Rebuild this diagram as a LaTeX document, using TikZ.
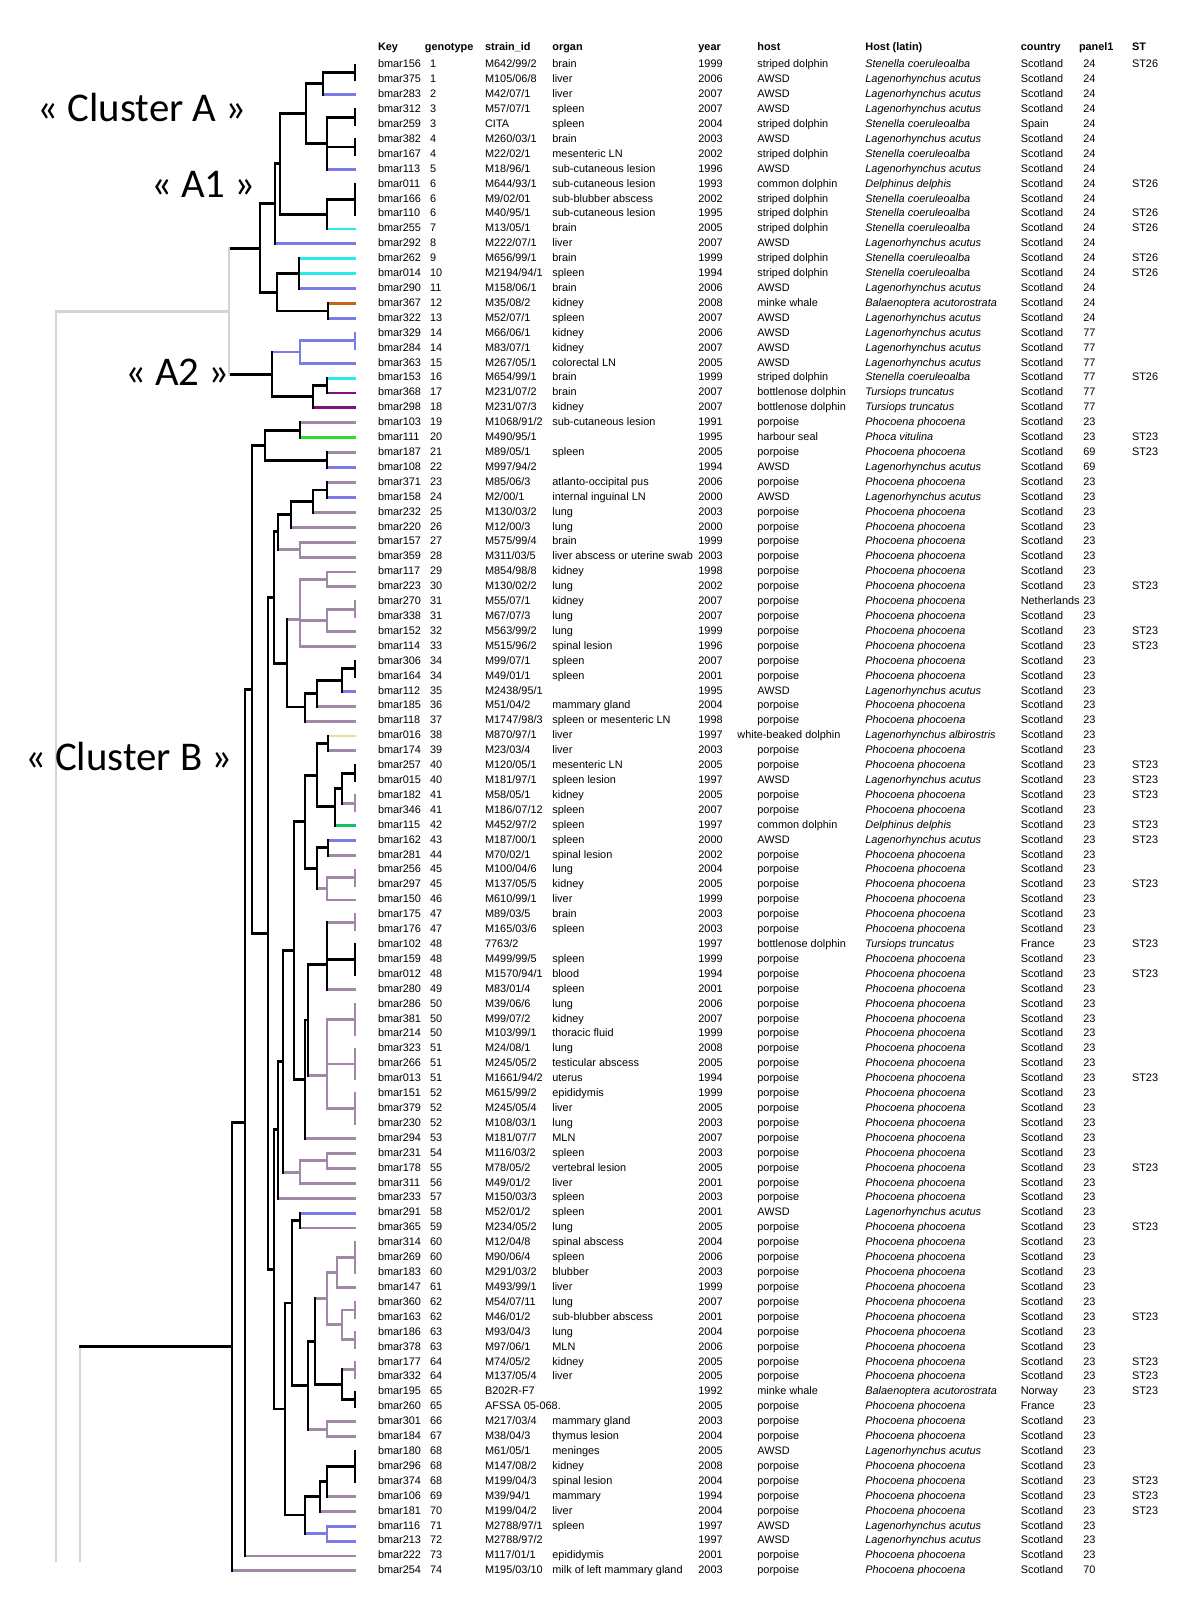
\documentclass[tikz,border=0pt]{standalone}
\usepackage{fontspec}
\setmainfont{Liberation Sans}
\newfontfamily\clusterfont{Carlito}

\definecolor{awsd}{RGB}{122,122,232}
\definecolor{striped}{RGB}{40,236,236}
\definecolor{minke}{RGB}{196,100,20}
\definecolor{bottlenose}{RGB}{128,16,128}
\definecolor{porpoise}{RGB}{160,136,166}
\definecolor{seal}{RGB}{40,222,40}
\definecolor{common}{RGB}{20,190,100}
\definecolor{whitebeak}{RGB}{226,224,160}
\definecolor{bracket}{RGB}{212,212,212}

\newcommand\tabfont{\fontsize{5.45}{6}\selectfont}

\tikzset{
  branch/.style={line width=1.45pt, line cap=rect},
  cell/.style={anchor=west, inner sep=0pt, font=\tabfont, text height=3.9pt, text depth=1.1pt},
  head/.style={cell, font=\tabfont\bfseries},
  latin/.style={cell, font=\tabfont\itshape},
  clabel/.style={anchor=east, inner sep=0pt, font=\clusterfont\fontsize{20.4}{24}\selectfont}
}

% one table row: key, genotype, strain, organ, year, host code, country, panel1, ST
\newcounter{rowno}
\newcommand\hostcell[3][757]{%
  \node[cell] (host\therowno) at (#1,\therowno) {#2};
  \node[latin] (latin\therowno) at (865,\therowno) {#3};}
\newcommand\hSD{\hostcell{striped dolphin}{Stenella coeruleoalba}}
\newcommand\hAW{\hostcell{AWSD}{Lagenorhynchus acutus}}
\newcommand\hCD{\hostcell{common dolphin}{Delphinus delphis}}
\newcommand\hMW{\hostcell{minke whale}{Balaenoptera acutorostrata}}
\newcommand\hBD{\hostcell{bottlenose dolphin}{Tursiops truncatus}}
\newcommand\hPP{\hostcell{porpoise}{Phocoena phocoena}}
\newcommand\hHS{\hostcell{harbour seal}{Phoca vitulina}}
\newcommand\hWB{\hostcell[737]{white-beaked dolphin}{Lagenorhynchus albirostris}}
\newcommand\trow[9]{\stepcounter{rowno}%
  \node[cell] (key\therowno) at (377.6,\therowno) {#1};
  \node[cell] (geno\therowno) at (429.6,\therowno) {#2};
  \node[cell] (strain\therowno) at (484.7,\therowno) {#3};
  \node[cell] (organ\therowno) at (552,\therowno) {#4};
  \node[cell] (year\therowno) at (698,\therowno) {#5};
  \csname h#6\endcsname
  \node[cell] (country\therowno) at (1020.4,\therowno) {#7};
  \node[cell] (panel\therowno) at (1083,\therowno) {#8};
  \node[cell] (st\therowno) at (1131.6,\therowno) {#9};}

% clades: name/x/row/first child/last child/colour of the bar
\newcommand\cladelist{
  a12/355/1.5/L1/L2/black, a123/323/2.25/a12/L3/black,
  a45/355/4.5/L4/L5/black, a67/355/6.5/L6/L7/black,
  a4to8/327/6.25/a45/L8/black, a1to8/306/4.25/a123/a4to8/black,
  a9to11/355/10/L9/L11/black, a9to12/327/11/a9to11/L12/black,
  a1to12/280/7.625/a1to8/a9to12/black, a1to13/275/10.31/a1to12/L13/black,
  a14to16/299/15/L14/L16/black, a17to18/328/17.5/L17/L18/black,
  a14to18/277/16.25/a14to16/a17to18/black, cA1/260/13.28/a1to13/a14to18/black,
  a19to20/355/19.5/L19/L20/awsd, a19to21/300/20.25/a19to20/L21/awsd,
  a22to23/327/22.5/L22/L23/black, a22to24/313/23.25/a22to23/L24/black,
  cA2/272/21.75/a19to21/a22to24/black, cA/229/17.52/cA1/cA2/bracket,
  b25to26/300/25.5/L25/L26/black, b27to28/327/27.5/L27/L28/black,
  b25to28/265/26.5/b25to26/b27to28/black,
  b29to30/327/29.5/L29/L30/black, b29to31/313/30.25/b29to30/L31/black,
  b29to32/291/31.125/b29to31/L32/black, b33to34/300/33.5/L33/L34/porpoise,
  b29to34/278/32.31/b29to32/b33to34/black,
  b35to36/327/35.5/L35/L36/porpoise, b37to38/355/37.5/L37/L38/porpoise,
  b37to39/327/38.25/b37to38/L39/porpoise, b35to40/300/38.2/b35to36/L40/porpoise,
  b41to42/355/41.5/L41/L42/black, b41to43/342/42.25/b41to42/L43/black,
  b41to44/317/43.125/b41to43/L44/black, b41to45/305/44.06/b41to44/L45/black,
  b35to45/287/41.13/b35to40/b41to45/black, b29to45/274/36.72/b29to34/b35to45/black,
  b46to47/328/46.5/L46/L47/black, b48to49/355/48.5/L48/L49/black,
  b50to51/355/50.5/L50/L51/porpoise, b48to51/342/49.5/b48to49/b50to51/black,
  b48to52/335/50.75/b48to51/L52/black, b46to52/317/48.625/b46to47/b48to52/black,
  b53to54/328/53.5/L53/L54/black, b55to56/355/55.5/L55/L56/porpoise,
  b55to57/327/56.25/b55to56/L57/porpoise, b53to57/317/54.875/b53to54/b55to57/black,
  b46to57/305/51.75/b46to52/b53to57/black,
  b58to59/355/58.5/L58/L59/porpoise, b60to62/355/61/L60/L62/black,
  b58to63/327/61.3/b58to59/L63/black,
  b64to66/355/65/L64/L66/porpoise, b67to69/355/68/L67/L69/porpoise,
  b70to72/355/71/L70/L72/porpoise, b64to72/327/68.8/b64to66/b70to72/porpoise,
  b58to72/308/65.05/b58to63/b64to72/black, b58to73/305/69.03/b58to72/L73/black,
  b46to73/294/60.39/b46to57/b58to73/black,
  b74to75/327/74.5/L74/L75/porpoise, b74to76/300/75.25/b74to75/L76/porpoise,
  b46to76/283/67.82/b46to73/b74to76/black, b46to77/278/72.41/b46to76/L77/black,
  b78to79/300/78.5/L78/L79/black,
  b80to82/355/81/L80/L82/porpoise, b80to83/337/82/b80to82/L83/porpoise,
  b84to85/355/84.5/L84/L85/porpoise, b86to87/355/86.5/L86/L87/porpoise,
  b84to87/342/85.5/b84to85/b86to87/porpoise, b80to87/327/83.75/b80to83/b84to87/porpoise,
  b88to89/355/88.5/L88/L89/porpoise, b90to91/355/90.5/L90/L91/black,
  b88to91/342/89.5/b88to89/b90to91/black, b80to91/315/86.63/b80to87/b88to91/black,
  b92to93/327/92.5/L92/L93/porpoise, b80to93/308/89.56/b80to91/b92to93/black,
  b78to93/292/84.03/b78to79/b80to93/black,
  b94to96/355/95/L94/L96/black, b94to97/327/96/b94to96/L97/black,
  b94to98/320/97/b94to97/L98/black, b99to100/327/99.5/L99/L100/awsd,
  b94to100/305/98.25/b94to98/b99to100/black, b78to100/285/91.14/b78to93/b94to100/black,
  b46to100/274/81.78/b46to77/b78to100/black, b29to100/268/59.25/b29to45/b46to100/black,
  b25to100/252/42.88/b25to28/b29to100/black, b25to101/245/71.94/b25to100/L101/black,
  cB/232/86.97/b25to101/L102/black}

\begin{document}
\begin{tikzpicture}[x=0.5pt, y=-7.455pt]
    \fill[white] (0,-3.36) rectangle (1200,103.95);
    \useasboundingbox (0,-3.36) rectangle (1200,103.95);

    % Leaves and clades
    \foreach \i in {1,...,102} \coordinate (L\i) at (355,\i);
    \foreach \n/\px/\py/\f/\l/\k in \cladelist \coordinate (\n) at (\px,\py);

    % Branches: parent/child/colour
    \foreach \p/\c/\k in {
      a123/a12/black, a123/L3/awsd, a4to8/a45/black, a4to8/a67/black, a4to8/L8/awsd,
      a1to8/a123/black, a1to8/a4to8/black, a9to12/a9to11/black, a9to12/L12/striped,
      a1to12/a1to8/black, a1to12/a9to12/black, a1to13/a1to12/black, a1to13/L13/awsd,
      a14to16/L14/striped, a14to16/L15/striped, a14to16/L16/awsd,
      a17to18/L17/minke, a17to18/L18/awsd, a14to18/a14to16/black, a14to18/a17to18/black,
      cA1/a1to13/black, cA1/a14to18/black,
      a19to21/a19to20/awsd, a19to21/L21/awsd, a22to23/L22/striped, a22to23/L23/bottlenose,
      a22to24/a22to23/black, a22to24/L24/bottlenose, cA2/a19to21/awsd, cA2/a22to24/black,
      cA/cA1/black, cA/cA2/black,
      b25to26/L25/porpoise, b25to26/L26/seal, b27to28/L27/porpoise, b27to28/L28/awsd,
      b25to28/b25to26/black, b25to28/b27to28/black,
      b29to30/L29/porpoise, b29to30/L30/awsd, b29to31/b29to30/black, b29to31/L31/porpoise,
      b29to32/b29to31/black, b29to32/L32/porpoise, b33to34/L33/porpoise, b33to34/L34/porpoise,
      b29to34/b29to32/black, b29to34/b33to34/porpoise,
      b35to36/L35/porpoise, b35to36/L36/porpoise, b37to39/b37to38/porpoise, b37to39/L39/porpoise,
      b35to40/b35to36/porpoise, b35to40/b37to39/porpoise, b35to40/L40/porpoise,
      b41to43/b41to42/black, b41to43/L43/awsd, b41to44/b41to43/black, b41to44/L44/porpoise,
      b41to45/b41to44/black, b41to45/L45/porpoise, b35to45/b35to40/porpoise, b35to45/b41to45/black,
      b29to45/b29to34/black, b29to45/b35to45/black,
      b46to47/L46/whitebeak, b46to47/L47/porpoise, b48to51/b48to49/black, b48to51/b50to51/porpoise,
      b48to52/b48to51/black, b48to52/L52/common, b46to52/b46to47/black, b46to52/b48to52/black,
      b53to54/L53/awsd, b53to54/L54/porpoise, b55to57/b55to56/porpoise, b55to57/L57/porpoise,
      b53to57/b53to54/black, b53to57/b55to57/porpoise, b46to57/b46to52/black, b46to57/b53to57/black,
      b58to63/b58to59/porpoise, b58to63/b60to62/black, b58to63/L63/porpoise,
      b64to72/b64to66/porpoise, b64to72/b67to69/porpoise, b64to72/b70to72/porpoise,
      b58to72/b58to63/black, b58to72/b64to72/porpoise, b58to73/b58to72/black, b58to73/L73/porpoise,
      b46to73/b46to57/black, b46to73/b58to73/black,
      b74to75/L74/porpoise, b74to75/L75/porpoise, b74to76/b74to75/porpoise, b74to76/L76/porpoise,
      b46to76/b46to73/black, b46to76/b74to76/porpoise, b46to77/b46to76/black, b46to77/L77/porpoise,
      b78to79/L78/awsd, b78to79/L79/porpoise, b80to83/b80to82/porpoise, b80to83/L83/porpoise,
      b84to87/b84to85/porpoise, b84to87/b86to87/porpoise,
      b80to87/b80to83/porpoise, b80to87/b84to87/porpoise,
      b88to91/b88to89/porpoise, b88to91/b90to91/black, b80to91/b80to87/porpoise, b80to91/b88to91/black,
      b92to93/L92/porpoise, b92to93/L93/porpoise, b80to93/b80to91/black, b80to93/b92to93/porpoise,
      b78to93/b78to79/black, b78to93/b80to93/black,
      b94to97/b94to96/black, b94to97/L97/porpoise, b94to98/b94to97/black, b94to98/L98/porpoise,
      b99to100/L99/awsd, b99to100/L100/awsd, b94to100/b94to98/black, b94to100/b99to100/awsd,
      b78to100/b78to93/black, b78to100/b94to100/black, b46to100/b46to77/black, b46to100/b78to100/black,
      b29to100/b29to45/black, b29to100/b46to100/black, b25to100/b25to28/black, b25to100/b29to100/black,
      b25to101/b25to100/black, b25to101/L101/porpoise, cB/b25to101/black, cB/L102/porpoise}
      \draw[branch,\k] (\c -| \p) -- (\c);

    % Vertical bars of the clades
    \foreach \n/\px/\py/\f/\l/\k in \cladelist \draw[branch,\k] (\f -| \n) -- (\l -| \n);

    % Grey brackets on the left
    \coordinate (gA) at (56,17.52);
    \coordinate (gAend) at (56,101.3);
    \coordinate (gB) at (80,86.97);
    \coordinate (gBend) at (80,101.3);
    \draw[branch,bracket] (cA) -- (gA) -- (gAend);
    \draw[branch,bracket] (gB) -- (gBend);
    \draw[branch] (gB) -- (cB);

    % Cluster names
    \node[clabel] (lblA) at (247,3.88) {« Cluster A »};
    \node[clabel] (lblA1) at (256,9.0) {« A1 »};
    \node[clabel] (lblA2) at (230,21.6) {« A2 »};
    \node[clabel] (lblB) at (233,47.35) {« Cluster B »};

    % Table header
    \node[head] (hkey) at (377.6,-0.14) {Key};
    \node[head] (hgeno) at (424.5,-0.14) {genotype};
    \node[head] (hstrain) at (484.7,-0.14) {strain\_id};
    \node[head] (horgan) at (552,-0.14) {organ};
    \node[head] (hyear) at (698,-0.14) {year};
    \node[head] (hhost) at (757,-0.14) {host};
    \node[head] (hlatin) at (865,-0.14) {Host (latin)};
    \node[head] (hcountry) at (1020.4,-0.14) {country};
    \node[head] (hpanel) at (1078.6,-0.14) {panel1};
    \node[head] (hst) at (1131.6,-0.14) {ST};

    % Table rows
    \trow{bmar156}{1}{M642/99/2}{brain}{1999}{SD}{Scotland}{24}{ST26}
    \trow{bmar375}{1}{M105/06/8}{liver}{2006}{AW}{Scotland}{24}{}
    \trow{bmar283}{2}{M42/07/1}{liver}{2007}{AW}{Scotland}{24}{}
    \trow{bmar312}{3}{M57/07/1}{spleen}{2007}{AW}{Scotland}{24}{}
    \trow{bmar259}{3}{CITA}{spleen}{2004}{SD}{Spain}{24}{}
    \trow{bmar382}{4}{M260/03/1}{brain}{2003}{AW}{Scotland}{24}{}
    \trow{bmar167}{4}{M22/02/1}{mesenteric LN}{2002}{SD}{Scotland}{24}{}
    \trow{bmar113}{5}{M18/96/1}{sub-cutaneous lesion}{1996}{AW}{Scotland}{24}{}
    \trow{bmar011}{6}{M644/93/1}{sub-cutaneous lesion}{1993}{CD}{Scotland}{24}{ST26}
    \trow{bmar166}{6}{M9/02/01}{sub-blubber abscess}{2002}{SD}{Scotland}{24}{}
    \trow{bmar110}{6}{M40/95/1}{sub-cutaneous lesion}{1995}{SD}{Scotland}{24}{ST26}
    \trow{bmar255}{7}{M13/05/1}{brain}{2005}{SD}{Scotland}{24}{ST26}
    \trow{bmar292}{8}{M222/07/1}{liver}{2007}{AW}{Scotland}{24}{}
    \trow{bmar262}{9}{M656/99/1}{brain}{1999}{SD}{Scotland}{24}{ST26}
    \trow{bmar014}{10}{M2194/94/1}{spleen}{1994}{SD}{Scotland}{24}{ST26}
    \trow{bmar290}{11}{M158/06/1}{brain}{2006}{AW}{Scotland}{24}{}
    \trow{bmar367}{12}{M35/08/2}{kidney}{2008}{MW}{Scotland}{24}{}
    \trow{bmar322}{13}{M52/07/1}{spleen}{2007}{AW}{Scotland}{24}{}
    \trow{bmar329}{14}{M66/06/1}{kidney}{2006}{AW}{Scotland}{77}{}
    \trow{bmar284}{14}{M83/07/1}{kidney}{2007}{AW}{Scotland}{77}{}
    \trow{bmar363}{15}{M267/05/1}{colorectal LN}{2005}{AW}{Scotland}{77}{}
    \trow{bmar153}{16}{M654/99/1}{brain}{1999}{SD}{Scotland}{77}{ST26}
    \trow{bmar368}{17}{M231/07/2}{brain}{2007}{BD}{Scotland}{77}{}
    \trow{bmar298}{18}{M231/07/3}{kidney}{2007}{BD}{Scotland}{77}{}
    \trow{bmar103}{19}{M1068/91/2}{sub-cutaneous lesion}{1991}{PP}{Scotland}{23}{}
    \trow{bmar111}{20}{M490/95/1}{}{1995}{HS}{Scotland}{23}{ST23}
    \trow{bmar187}{21}{M89/05/1}{spleen}{2005}{PP}{Scotland}{69}{ST23}
    \trow{bmar108}{22}{M997/94/2}{}{1994}{AW}{Scotland}{69}{}
    \trow{bmar371}{23}{M85/06/3}{atlanto-occipital pus}{2006}{PP}{Scotland}{23}{}
    \trow{bmar158}{24}{M2/00/1}{internal inguinal LN}{2000}{AW}{Scotland}{23}{}
    \trow{bmar232}{25}{M130/03/2}{lung}{2003}{PP}{Scotland}{23}{}
    \trow{bmar220}{26}{M12/00/3}{lung}{2000}{PP}{Scotland}{23}{}
    \trow{bmar157}{27}{M575/99/4}{brain}{1999}{PP}{Scotland}{23}{}
    \trow{bmar359}{28}{M311/03/5}{liver abscess or uterine swab}{2003}{PP}{Scotland}{23}{}
    \trow{bmar117}{29}{M854/98/8}{kidney}{1998}{PP}{Scotland}{23}{}
    \trow{bmar223}{30}{M130/02/2}{lung}{2002}{PP}{Scotland}{23}{ST23}
    \trow{bmar270}{31}{M55/07/1}{kidney}{2007}{PP}{Netherlands}{23}{}
    \trow{bmar338}{31}{M67/07/3}{lung}{2007}{PP}{Scotland}{23}{}
    \trow{bmar152}{32}{M563/99/2}{lung}{1999}{PP}{Scotland}{23}{ST23}
    \trow{bmar114}{33}{M515/96/2}{spinal lesion}{1996}{PP}{Scotland}{23}{ST23}
    \trow{bmar306}{34}{M99/07/1}{spleen}{2007}{PP}{Scotland}{23}{}
    \trow{bmar164}{34}{M49/01/1}{spleen}{2001}{PP}{Scotland}{23}{}
    \trow{bmar112}{35}{M2438/95/1}{}{1995}{AW}{Scotland}{23}{}
    \trow{bmar185}{36}{M51/04/2}{mammary gland}{2004}{PP}{Scotland}{23}{}
    \trow{bmar118}{37}{M1747/98/3}{spleen or mesenteric LN}{1998}{PP}{Scotland}{23}{}
    \trow{bmar016}{38}{M870/97/1}{liver}{1997}{WB}{Scotland}{23}{}
    \trow{bmar174}{39}{M23/03/4}{liver}{2003}{PP}{Scotland}{23}{}
    \trow{bmar257}{40}{M120/05/1}{mesenteric LN}{2005}{PP}{Scotland}{23}{ST23}
    \trow{bmar015}{40}{M181/97/1}{spleen lesion}{1997}{AW}{Scotland}{23}{ST23}
    \trow{bmar182}{41}{M58/05/1}{kidney}{2005}{PP}{Scotland}{23}{ST23}
    \trow{bmar346}{41}{M186/07/12}{spleen}{2007}{PP}{Scotland}{23}{}
    \trow{bmar115}{42}{M452/97/2}{spleen}{1997}{CD}{Scotland}{23}{ST23}
    \trow{bmar162}{43}{M187/00/1}{spleen}{2000}{AW}{Scotland}{23}{ST23}
    \trow{bmar281}{44}{M70/02/1}{spinal lesion}{2002}{PP}{Scotland}{23}{}
    \trow{bmar256}{45}{M100/04/6}{lung}{2004}{PP}{Scotland}{23}{}
    \trow{bmar297}{45}{M137/05/5}{kidney}{2005}{PP}{Scotland}{23}{ST23}
    \trow{bmar150}{46}{M610/99/1}{liver}{1999}{PP}{Scotland}{23}{}
    \trow{bmar175}{47}{M89/03/5}{brain}{2003}{PP}{Scotland}{23}{}
    \trow{bmar176}{47}{M165/03/6}{spleen}{2003}{PP}{Scotland}{23}{}
    \trow{bmar102}{48}{7763/2}{}{1997}{BD}{France}{23}{ST23}
    \trow{bmar159}{48}{M499/99/5}{spleen}{1999}{PP}{Scotland}{23}{}
    \trow{bmar012}{48}{M1570/94/1}{blood}{1994}{PP}{Scotland}{23}{ST23}
    \trow{bmar280}{49}{M83/01/4}{spleen}{2001}{PP}{Scotland}{23}{}
    \trow{bmar286}{50}{M39/06/6}{lung}{2006}{PP}{Scotland}{23}{}
    \trow{bmar381}{50}{M99/07/2}{kidney}{2007}{PP}{Scotland}{23}{}
    \trow{bmar214}{50}{M103/99/1}{thoracic fluid}{1999}{PP}{Scotland}{23}{}
    \trow{bmar323}{51}{M24/08/1}{lung}{2008}{PP}{Scotland}{23}{}
    \trow{bmar266}{51}{M245/05/2}{testicular abscess}{2005}{PP}{Scotland}{23}{}
    \trow{bmar013}{51}{M1661/94/2}{uterus}{1994}{PP}{Scotland}{23}{ST23}
    \trow{bmar151}{52}{M615/99/2}{epididymis}{1999}{PP}{Scotland}{23}{}
    \trow{bmar379}{52}{M245/05/4}{liver}{2005}{PP}{Scotland}{23}{}
    \trow{bmar230}{52}{M108/03/1}{lung}{2003}{PP}{Scotland}{23}{}
    \trow{bmar294}{53}{M181/07/7}{MLN}{2007}{PP}{Scotland}{23}{}
    \trow{bmar231}{54}{M116/03/2}{spleen}{2003}{PP}{Scotland}{23}{}
    \trow{bmar178}{55}{M78/05/2}{vertebral lesion}{2005}{PP}{Scotland}{23}{ST23}
    \trow{bmar311}{56}{M49/01/2}{liver}{2001}{PP}{Scotland}{23}{}
    \trow{bmar233}{57}{M150/03/3}{spleen}{2003}{PP}{Scotland}{23}{}
    \trow{bmar291}{58}{M52/01/2}{spleen}{2001}{AW}{Scotland}{23}{}
    \trow{bmar365}{59}{M234/05/2}{lung}{2005}{PP}{Scotland}{23}{ST23}
    \trow{bmar314}{60}{M12/04/8}{spinal abscess}{2004}{PP}{Scotland}{23}{}
    \trow{bmar269}{60}{M90/06/4}{spleen}{2006}{PP}{Scotland}{23}{}
    \trow{bmar183}{60}{M291/03/2}{blubber}{2003}{PP}{Scotland}{23}{}
    \trow{bmar147}{61}{M493/99/1}{liver}{1999}{PP}{Scotland}{23}{}
    \trow{bmar360}{62}{M54/07/11}{lung}{2007}{PP}{Scotland}{23}{}
    \trow{bmar163}{62}{M46/01/2}{sub-blubber abscess}{2001}{PP}{Scotland}{23}{ST23}
    \trow{bmar186}{63}{M93/04/3}{lung}{2004}{PP}{Scotland}{23}{}
    \trow{bmar378}{63}{M97/06/1}{MLN}{2006}{PP}{Scotland}{23}{}
    \trow{bmar177}{64}{M74/05/2}{kidney}{2005}{PP}{Scotland}{23}{ST23}
    \trow{bmar332}{64}{M137/05/4}{liver}{2005}{PP}{Scotland}{23}{ST23}
    \trow{bmar195}{65}{B202R-F7}{}{1992}{MW}{Norway}{23}{ST23}
    \trow{bmar260}{65}{AFSSA 05-068.}{}{2005}{PP}{France}{23}{}
    \trow{bmar301}{66}{M217/03/4}{mammary gland}{2003}{PP}{Scotland}{23}{}
    \trow{bmar184}{67}{M38/04/3}{thymus lesion}{2004}{PP}{Scotland}{23}{}
    \trow{bmar180}{68}{M61/05/1}{meninges}{2005}{AW}{Scotland}{23}{}
    \trow{bmar296}{68}{M147/08/2}{kidney}{2008}{PP}{Scotland}{23}{}
    \trow{bmar374}{68}{M199/04/3}{spinal lesion}{2004}{PP}{Scotland}{23}{ST23}
    \trow{bmar106}{69}{M39/94/1}{mammary}{1994}{PP}{Scotland}{23}{ST23}
    \trow{bmar181}{70}{M199/04/2}{liver}{2004}{PP}{Scotland}{23}{ST23}
    \trow{bmar116}{71}{M2788/97/1}{spleen}{1997}{AW}{Scotland}{23}{}
    \trow{bmar213}{72}{M2788/97/2}{}{1997}{AW}{Scotland}{23}{}
    \trow{bmar222}{73}{M117/01/1}{epididymis}{2001}{PP}{Scotland}{23}{}
    \trow{bmar254}{74}{M195/03/10}{milk of left mammary gland}{2003}{PP}{Scotland}{70}{}
\end{tikzpicture}
\end{document}
